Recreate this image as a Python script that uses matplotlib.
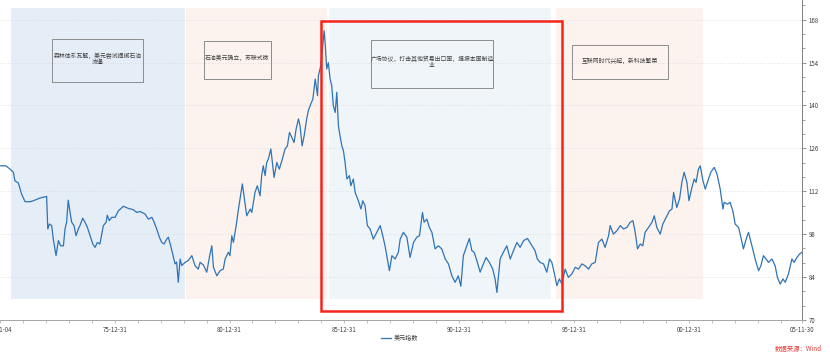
import matplotlib
matplotlib.use("Agg")
import matplotlib.pyplot as plt
from matplotlib.patches import Rectangle
from matplotlib.ticker import FixedLocator, MultipleLocator
import numpy as np

plt.rcParams['font.family'] = ['Noto Sans CJK SC', 'DejaVu Sans']

# ---- data (decimal year, dollar index) ----
years = [
    1971.01, 1971.27, 1971.45, 1971.59, 1971.66, 1971.81, 1971.95, 1972.10, 1972.32, 1972.46,
    1972.75, 1972.97, 1973.04, 1973.09, 1973.16, 1973.26, 1973.33, 1973.45, 1973.55, 1973.65,
    1973.77, 1973.84, 1973.91, 1973.98, 1974.06, 1974.13, 1974.23, 1974.32, 1974.42, 1974.49,
    1974.61, 1974.71, 1974.81, 1974.93, 1975.05, 1975.15, 1975.25, 1975.36, 1975.51, 1975.63,
    1975.68, 1975.77, 1975.87, 1976.02, 1976.16, 1976.38, 1976.60, 1976.81, 1976.96, 1977.11,
    1977.32, 1977.47, 1977.62, 1977.72, 1977.83, 1977.95, 1978.05, 1978.15, 1978.27, 1978.34,
    1978.44, 1978.56, 1978.63, 1978.70, 1978.77, 1978.85, 1978.92, 1979.07, 1979.21, 1979.36,
    1979.50, 1979.64, 1979.72, 1979.86, 1980.01, 1980.15, 1980.23, 1980.30, 1980.45, 1980.59,
    1980.73, 1980.81, 1980.95, 1981.02, 1981.10, 1981.17, 1981.29, 1981.39, 1981.46, 1981.56,
    1981.65, 1981.75, 1981.90, 1981.97, 1982.11, 1982.21, 1982.33, 1982.40, 1982.47, 1982.55,
    1982.62, 1982.69, 1982.80, 1982.88, 1982.94, 1983.06, 1983.17, 1983.28, 1983.42, 1983.52,
    1983.61, 1983.71, 1983.81, 1983.90, 1984.00, 1984.07, 1984.16, 1984.25, 1984.36, 1984.43,
    1984.54, 1984.63, 1984.73, 1984.77, 1984.83, 1984.87, 1984.97, 1985.03, 1985.12, 1985.17,
    1985.23, 1985.30, 1985.38, 1985.45, 1985.52, 1985.60, 1985.67, 1985.74, 1985.81, 1985.89,
    1985.96, 1986.03, 1986.11, 1986.22, 1986.28, 1986.39, 1986.47, 1986.61, 1986.72, 1986.80,
    1986.90, 1987.00, 1987.12, 1987.26, 1987.41, 1987.56, 1987.67, 1987.77, 1987.87, 1987.96,
    1988.07, 1988.21, 1988.35, 1988.43, 1988.57, 1988.72, 1988.86, 1989.01, 1989.15, 1989.27,
    1989.40, 1989.47, 1989.59, 1989.70, 1989.81, 1989.95, 1990.09, 1990.24, 1990.39, 1990.53,
    1990.68, 1990.82, 1990.96, 1991.07, 1991.18, 1991.33, 1991.44, 1991.55, 1991.65, 1991.77,
    1991.91, 1992.05, 1992.17, 1992.31, 1992.46, 1992.56, 1992.64, 1992.78, 1992.92, 1993.07,
    1993.22, 1993.36, 1993.51, 1993.65, 1993.80, 1993.97, 1994.12, 1994.30, 1994.40, 1994.52,
    1994.67, 1994.81, 1994.93, 1995.03, 1995.13, 1995.25, 1995.36, 1995.47, 1995.61, 1995.75,
    1995.90, 1996.05, 1996.19, 1996.34, 1996.48, 1996.63, 1996.77, 1996.92, 1997.06, 1997.21,
    1997.35, 1997.50, 1997.57, 1997.71, 1997.86, 1998.01, 1998.15, 1998.30, 1998.44, 1998.56,
    1998.66, 1998.76, 1998.88, 1998.99, 1999.09, 1999.24, 1999.39, 1999.49, 1999.60, 1999.75,
    1999.86, 2000.01, 2000.15, 2000.26, 2000.33, 2000.47, 2000.59, 2000.69, 2000.79, 2000.91,
    2001.00, 2001.13, 2001.23, 2001.31, 2001.41, 2001.49, 2001.61, 2001.71, 2001.85, 2001.95,
    2002.10, 2002.22, 2002.36, 2002.48, 2002.53, 2002.68, 2002.79, 2002.91, 2003.01, 2003.16,
    2003.26, 2003.37, 2003.49, 2003.59, 2003.74, 2003.88, 2004.03, 2004.13, 2004.24, 2004.36,
    2004.46, 2004.61, 2004.75, 2004.85, 2004.97, 2005.09, 2005.19, 2005.33, 2005.48, 2005.58,
    2005.70, 2005.81, 2005.92,
]
dxy = [
    120.3, 120.3, 119.2, 118.2, 115.4, 114.7, 111.1, 108.6, 108.6, 108.9,
    109.8, 110.2, 110.3, 99.7, 101.3, 100.8, 96.4, 91.0, 95.9, 94.2,
    94.2, 99.7, 101.9, 109.1, 105.1, 101.9, 100.8, 97.5, 99.7, 100.8,
    103.2, 101.9, 100.3, 97.5, 94.8, 93.7, 95.3, 94.8, 100.8, 101.9,
    104.2, 102.4, 103.5, 103.5, 105.6, 107.1, 106.4, 106.0, 105.1, 105.4,
    104.6, 102.9, 103.5, 101.9, 99.7, 97.0, 95.3, 94.8, 96.4, 97.0,
    94.2, 90.4, 88.3, 88.9, 82.3, 89.9, 87.8, 88.8, 89.4, 91.0,
    87.7, 86.6, 88.8, 88.0, 85.6, 91.5, 94.2, 87.2, 84.4, 86.1,
    86.6, 89.9, 92.1, 91.0, 97.5, 95.3, 100.8, 106.2, 109.5, 114.4,
    109.5, 104.0, 106.2, 105.1, 111.6, 113.8, 110.5, 117.1, 120.3, 117.1,
    121.4, 122.5, 125.8, 120.3, 116.5, 121.4, 119.2, 122.0, 125.8, 126.8,
    131.2, 129.6, 127.9, 132.3, 135.6, 133.4, 126.8, 130.1, 135.6, 138.3,
    140.5, 142.1, 148.6, 146.5, 143.2, 149.7, 152.9, 157.3, 164.4, 159.5,
    151.9, 154.0, 148.6, 146.5, 139.9, 137.7, 144.3, 133.4, 130.1, 126.8,
    125.2, 121.4, 116.0, 117.1, 113.8, 116.0, 111.6, 108.9, 106.2, 108.9,
    107.3, 100.8, 99.7, 96.4, 98.6, 100.8, 97.5, 94.2, 89.9, 86.1,
    91.0, 89.9, 92.1, 96.4, 98.6, 97.0, 90.4, 95.3, 97.0, 97.5,
    105.1, 101.9, 102.9, 100.2, 98.6, 93.2, 94.2, 93.2, 89.9, 88.3,
    84.4, 82.3, 84.4, 81.0, 91.0, 94.2, 96.6, 92.6, 92.1, 89.3,
    85.6, 88.3, 90.4, 88.8, 86.6, 83.4, 79.0, 89.9, 92.1, 94.2,
    89.9, 92.6, 95.3, 93.7, 95.9, 96.6, 94.8, 92.6, 89.9, 88.8,
    88.3, 85.6, 89.9, 88.8, 85.6, 81.2, 83.4, 81.7, 86.6, 83.9,
    85.0, 87.2, 86.6, 88.3, 87.7, 86.6, 88.3, 88.8, 95.3, 96.4,
    93.7, 97.5, 100.8, 98.0, 99.1, 100.8, 99.7, 100.2, 101.9, 102.4,
    98.6, 93.2, 94.8, 94.2, 98.6, 100.2, 101.9, 104.0, 100.2, 98.0,
    101.3, 103.5, 105.6, 106.2, 111.6, 106.7, 109.5, 114.9, 118.2, 114.9,
    108.9, 113.3, 116.0, 114.9, 119.2, 120.3, 115.4, 112.7, 116.0, 118.2,
    119.8, 117.6, 112.7, 106.2, 108.4, 107.8, 108.4, 105.6, 101.3, 100.2,
    97.0, 93.2, 96.4, 98.6, 94.2, 89.9, 86.1, 87.7, 91.0, 89.9,
    88.8, 89.9, 87.7, 83.9, 81.7, 83.4, 82.3, 85.0, 89.9, 88.8,
    90.4, 91.5, 92.1,
]

x_tick_pos = [1971.01, 1976.0, 1981.0, 1986.0, 1991.0, 1996.0, 2001.0, 2005.92]
x_tick_labels = ['71-01-04', '75-12-31', '80-12-31', '85-12-31', '90-12-31',
                 '95-12-31', '00-12-31', '05-11-30']
y_ticks = [70, 84, 98, 112, 126, 140, 154, 168]

periods = [(1971.49, 1979.06), (1979.10, 1985.23), (1985.35, 1994.99), (1995.22, 2001.60)]
period_colors = ['#e5edf6', '#fcf2ee', '#f0f5fa', '#fcf2ee']
period_texts = ['森林体系瓦解，美元尝试捆绑石油\n流通',
                '石油美元确立，苏联式微',
                '广场协议，打击其他贸易出口国，提振本国制造\n业',
                '互联网时代兴起，新科技繁荣']
series_name = '美元指数'
source_text = '数据来源：Wind'

# ---- figure ----
W, H = 830, 354
fig = plt.figure(figsize=(W / 100, H / 100), dpi=100)
ax = fig.add_axes([0, 34 / H, 802 / W, 320 / H])
ax.set_xlim(1971.01, 2005.92)
ax.set_ylim(70, 174.4)

# shaded periods (in axes height fraction)
for (x0, x1), c in zip(periods, period_colors):
    ax.axvspan(x0, x1, ymin=1 - 299 / 320, ymax=1 - 8 / 320, color=c, lw=0, zorder=0.2)

line, = ax.plot(years, dxy, color='#2f74b5', lw=0.9, zorder=3, label=series_name)

# grid
ax.set_axisbelow(True)
ax.yaxis.grid(True, color='#d9d9d9', ls=(0, (1, 2)), lw=0.6, zorder=0.5)

# axes styling
ax.yaxis.tick_right()
ax.set_yticks(y_ticks)
ax.yaxis.set_minor_locator(FixedLocator(list(np.arange(70, 175, 14 / 3))))
ax.set_xticks(x_tick_pos)
ax.set_xticklabels(x_tick_labels)
ax.xaxis.set_minor_locator(FixedLocator(list(range(1972, 2006))))
for s in ['left', 'top']:
    ax.spines[s].set_visible(False)
ax.spines['right'].set_color('#7f7f7f')
ax.spines['bottom'].set_color('#a6a6a6')
ax.spines['right'].set_linewidth(0.7)
ax.spines['bottom'].set_linewidth(0.7)
ax.tick_params(axis='y', which='major', length=3, width=0.6, color='#7f7f7f',
               labelsize=4.4, labelcolor='#404040', pad=1.5)
ax.tick_params(axis='y', which='minor', length=2, width=0.5, color='#7f7f7f')
ax.tick_params(axis='x', which='both', length=2.5, width=0.5, color='#a6a6a6',
               labelsize=4.4, labelcolor='#404040', pad=2)

# annotation boxes (axes-fraction positions)
boxes = [(52, 39, 143, 82), (204, 40.7, 271, 79.3), (371, 40, 493, 88), (571.7, 45.3, 667.7, 79.3)]
for (bx0, by0, bx1, by1), txt in zip(boxes, period_texts):
    fx0, fx1 = bx0 / 802, bx1 / 802
    fy0, fy1 = 1 - by1 / 320, 1 - by0 / 320
    ax.add_patch(Rectangle((fx0, fy0), fx1 - fx0, fy1 - fy0, transform=ax.transAxes,
                           fill=False, ec='#8c8c8c', lw=0.7, zorder=4))
    ax.text((fx0 + fx1) / 2, (fy0 + fy1) / 2 + 0.006, txt, transform=ax.transAxes,
            ha='center', va='center', fontsize=4.2, color='#404040',
            linespacing=1.3, zorder=5)

# red highlight rectangle
ax.add_patch(Rectangle((321 / 802, 1 - 311 / 320), (562 - 321) / 802, (311 - 21) / 320,
                       transform=ax.transAxes, fill=False, ec='#f5251c', lw=1.8,
                       zorder=6, clip_on=False))

# legend
fig.legend(handles=[line], loc='center', bbox_to_anchor=(400 / W, 1 - 338 / H),
           frameon=False, fontsize=4.4, handlelength=1.6, handletextpad=0.5,
           borderpad=0, labelcolor='#404040')

fig.text(822 / W, 1 - 349 / H, source_text, ha='right', va='center',
         fontsize=4.6, color='#e8413a')

fig.savefig('out.png', dpi=100)
